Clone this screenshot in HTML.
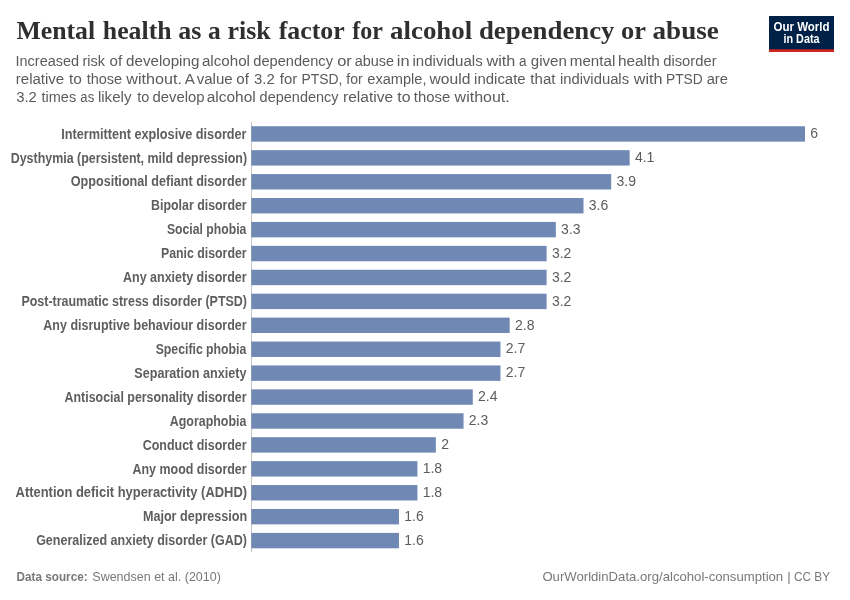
<!DOCTYPE html>
<html><head><meta charset="utf-8"><title>Mental health as a risk factor for alcohol dependency or abuse</title>
<style>
html,body{margin:0;padding:0;background:#fff;}
svg{display:block;will-change:transform;}
text{font-family:"Liberation Sans",sans-serif;}
.t{font-family:"Liberation Serif",serif;font-weight:bold;fill:#2f2f2f;}
.s{fill:#5b5b5b;}
.l{font-weight:bold;fill:#5e5e5e;font-size:14.1px;}
.v{fill:#5c5c5c;font-size:14px;}
.f{fill:#787878;font-size:13.3px;}
</style></head><body>
<svg width="850" height="600" viewBox="0 0 850 600">
<rect width="850" height="600" fill="#fff"/>
<text class="t" x="16.42" y="39.1" textLength="78.77" lengthAdjust="spacingAndGlyphs" font-size="25.2">Mental</text>
<text class="t" x="102.86" y="39.1" textLength="68.68" lengthAdjust="spacingAndGlyphs" font-size="25.2">health</text>
<text class="t" x="178.2" y="39.1" textLength="23.08" lengthAdjust="spacingAndGlyphs" font-size="25.2">as</text>
<text class="t" x="207.92" y="39.1" textLength="12.74" lengthAdjust="spacingAndGlyphs" font-size="25.2">a</text>
<text class="t" x="227.56" y="39.1" textLength="43.05" lengthAdjust="spacingAndGlyphs" font-size="25.2">risk</text>
<text class="t" x="278.67" y="39.1" textLength="66.05" lengthAdjust="spacingAndGlyphs" font-size="25.2">factor</text>
<text class="t" x="352.28" y="39.1" textLength="30.64" lengthAdjust="spacingAndGlyphs" font-size="25.2">for</text>
<text class="t" x="390.07" y="39.1" textLength="82.14" lengthAdjust="spacingAndGlyphs" font-size="25.2">alcohol</text>
<text class="t" x="478.94" y="39.1" textLength="135.57" lengthAdjust="spacingAndGlyphs" font-size="25.2">dependency</text>
<text class="t" x="620.95" y="39.1" textLength="24.91" lengthAdjust="spacingAndGlyphs" font-size="25.2">or</text>
<text class="t" x="652.56" y="39.1" textLength="66.31" lengthAdjust="spacingAndGlyphs" font-size="25.2">abuse</text>
<text class="s" x="15.49" y="66.3" textLength="63.63" lengthAdjust="spacingAndGlyphs" font-size="15.25">Increased</text>
<text class="s" x="82.45" y="66.3" textLength="22.54" lengthAdjust="spacingAndGlyphs" font-size="15.25">risk</text>
<text class="s" x="109.58" y="66.3" textLength="12.59" lengthAdjust="spacingAndGlyphs" font-size="15.25">of</text>
<text class="s" x="126.08" y="66.3" textLength="73.23" lengthAdjust="spacingAndGlyphs" font-size="15.25">developing</text>
<text class="s" x="201.88" y="66.3" textLength="48.09" lengthAdjust="spacingAndGlyphs" font-size="15.25">alcohol</text>
<text class="s" x="253.3" y="66.3" textLength="79.7" lengthAdjust="spacingAndGlyphs" font-size="15.25">dependency</text>
<text class="s" x="337.21" y="66.3" textLength="14.65" lengthAdjust="spacingAndGlyphs" font-size="15.25">or</text>
<text class="s" x="354.71" y="66.3" textLength="39.43" lengthAdjust="spacingAndGlyphs" font-size="15.25">abuse</text>
<text class="s" x="396.79" y="66.3" textLength="12.82" lengthAdjust="spacingAndGlyphs" font-size="15.25">in</text>
<text class="s" x="412.51" y="66.3" textLength="70.16" lengthAdjust="spacingAndGlyphs" font-size="15.25">individuals</text>
<text class="s" x="486.4" y="66.3" textLength="28.96" lengthAdjust="spacingAndGlyphs" font-size="15.25">with</text>
<text class="s" x="518.94" y="66.3" textLength="7.54" lengthAdjust="spacingAndGlyphs" font-size="15.25">a</text>
<text class="s" x="530.78" y="66.3" textLength="36.07" lengthAdjust="spacingAndGlyphs" font-size="15.25">given</text>
<text class="s" x="569.81" y="66.3" textLength="45.51" lengthAdjust="spacingAndGlyphs" font-size="15.25">mental</text>
<text class="s" x="617.99" y="66.3" textLength="41.87" lengthAdjust="spacingAndGlyphs" font-size="15.25">health</text>
<text class="s" x="663.19" y="66.3" textLength="53.52" lengthAdjust="spacingAndGlyphs" font-size="15.25">disorder</text>
<text class="s" x="15.81" y="84.2" textLength="48.44" lengthAdjust="spacingAndGlyphs" font-size="15.25">relative</text>
<text class="s" x="69.05" y="84.2" textLength="12.85" lengthAdjust="spacingAndGlyphs" font-size="15.25">to</text>
<text class="s" x="86.66" y="84.2" textLength="35.49" lengthAdjust="spacingAndGlyphs" font-size="15.25">those</text>
<text class="s" x="126.3" y="84.2" textLength="55.82" lengthAdjust="spacingAndGlyphs" font-size="15.25">without.</text>
<text class="s" x="184.68" y="84.2" textLength="10.07" lengthAdjust="spacingAndGlyphs" font-size="15.25">A</text>
<text class="s" x="196.68" y="84.2" textLength="36.02" lengthAdjust="spacingAndGlyphs" font-size="15.25">value</text>
<text class="s" x="236.28" y="84.2" textLength="12.59" lengthAdjust="spacingAndGlyphs" font-size="15.25">of</text>
<text class="s" x="253.99" y="84.2" textLength="20.72" lengthAdjust="spacingAndGlyphs" font-size="15.25">3.2</text>
<text class="s" x="279.76" y="84.2" textLength="17.44" lengthAdjust="spacingAndGlyphs" font-size="15.25">for</text>
<text class="s" x="301.46" y="84.2" textLength="41.03" lengthAdjust="spacingAndGlyphs" font-size="15.25">PTSD,</text>
<text class="s" x="346.27" y="84.2" textLength="16.4" lengthAdjust="spacingAndGlyphs" font-size="15.25">for</text>
<text class="s" x="367.3" y="84.2" textLength="59.22" lengthAdjust="spacingAndGlyphs" font-size="15.25">example,</text>
<text class="s" x="429.6" y="84.2" textLength="40.79" lengthAdjust="spacingAndGlyphs" font-size="15.25">would</text>
<text class="s" x="474.12" y="84.2" textLength="51.56" lengthAdjust="spacingAndGlyphs" font-size="15.25">indicate</text>
<text class="s" x="530.35" y="84.2" textLength="25.13" lengthAdjust="spacingAndGlyphs" font-size="15.25">that</text>
<text class="s" x="559.93" y="84.2" textLength="69.14" lengthAdjust="spacingAndGlyphs" font-size="15.25">individuals</text>
<text class="s" x="633.8" y="84.2" textLength="28.76" lengthAdjust="spacingAndGlyphs" font-size="15.25">with</text>
<text class="s" x="665.97" y="84.2" textLength="36.85" lengthAdjust="spacingAndGlyphs" font-size="15.25">PTSD</text>
<text class="s" x="706.7" y="84.2" textLength="21.24" lengthAdjust="spacingAndGlyphs" font-size="15.25">are</text>
<text class="s" x="16.19" y="102.0" textLength="20.72" lengthAdjust="spacingAndGlyphs" font-size="15.25">3.2</text>
<text class="s" x="41.56" y="102.0" textLength="34.57" lengthAdjust="spacingAndGlyphs" font-size="15.25">times</text>
<text class="s" x="80.37" y="102.0" textLength="13.85" lengthAdjust="spacingAndGlyphs" font-size="15.25">as</text>
<text class="s" x="97.91" y="102.0" textLength="33.61" lengthAdjust="spacingAndGlyphs" font-size="15.25">likely</text>
<text class="s" x="137.26" y="102.0" textLength="12.1" lengthAdjust="spacingAndGlyphs" font-size="15.25">to</text>
<text class="s" x="152.49" y="102.0" textLength="52.06" lengthAdjust="spacingAndGlyphs" font-size="15.25">develop</text>
<text class="s" x="206.77" y="102.0" textLength="48.92" lengthAdjust="spacingAndGlyphs" font-size="15.25">alcohol</text>
<text class="s" x="259.61" y="102.0" textLength="78.99" lengthAdjust="spacingAndGlyphs" font-size="15.25">dependency</text>
<text class="s" x="343.08" y="102.0" textLength="49.99" lengthAdjust="spacingAndGlyphs" font-size="15.25">relative</text>
<text class="s" x="397.34" y="102.0" textLength="13.28" lengthAdjust="spacingAndGlyphs" font-size="15.25">to</text>
<text class="s" x="413.86" y="102.0" textLength="36.41" lengthAdjust="spacingAndGlyphs" font-size="15.25">those</text>
<text class="s" x="454.6" y="102.0" textLength="55.1" lengthAdjust="spacingAndGlyphs" font-size="15.25">without.</text>
<g>
<rect x="769" y="16" width="65" height="36" fill="#002147"/>
<rect x="769" y="49.3" width="65" height="2.7" fill="#ce261e"/>
<text x="801.5" y="30.7" font-size="12" font-weight="bold" fill="#fff" text-anchor="middle" textLength="56" lengthAdjust="spacingAndGlyphs">Our World</text>
<text x="801.5" y="43.3" font-size="12" font-weight="bold" fill="#fff" text-anchor="middle" textLength="36" lengthAdjust="spacingAndGlyphs">in Data</text>
</g>
<line x1="251.5" y1="122" x2="251.5" y2="552" stroke="#c4c4c4" stroke-width="1"/>
<rect x="251.3" y="126.25" width="553.68" height="15.4" fill="#6f88b4"/>
<text class="l" x="61.2" y="138.65" textLength="185.37" lengthAdjust="spacingAndGlyphs">Intermittent explosive disorder</text>
<text class="v" x="810.28" y="138.15">6</text>
<rect x="251.3" y="150.17" width="378.35" height="15.4" fill="#6f88b4"/>
<text class="l" x="10.72" y="162.57" textLength="236.31" lengthAdjust="spacingAndGlyphs">Dysthymia (persistent, mild depression)</text>
<text class="v" x="634.95" y="162.07">4.1</text>
<rect x="251.3" y="174.09" width="359.89" height="15.4" fill="#6f88b4"/>
<text class="l" x="70.74" y="186.49" textLength="175.88" lengthAdjust="spacingAndGlyphs">Oppositional defiant disorder</text>
<text class="v" x="616.49" y="185.99">3.9</text>
<rect x="251.3" y="198.01" width="332.21" height="15.4" fill="#6f88b4"/>
<text class="l" x="151.12" y="210.41" textLength="95.52" lengthAdjust="spacingAndGlyphs">Bipolar disorder</text>
<text class="v" x="588.81" y="209.91">3.6</text>
<rect x="251.3" y="221.93" width="304.52" height="15.4" fill="#6f88b4"/>
<text class="l" x="166.98" y="234.33" textLength="79.35" lengthAdjust="spacingAndGlyphs">Social phobia</text>
<text class="v" x="561.12" y="233.83">3.3</text>
<rect x="251.3" y="245.85" width="295.30" height="15.4" fill="#6f88b4"/>
<text class="l" x="160.93" y="258.25" textLength="85.65" lengthAdjust="spacingAndGlyphs">Panic disorder</text>
<text class="v" x="551.90" y="257.75">3.2</text>
<rect x="251.3" y="269.77" width="295.30" height="15.4" fill="#6f88b4"/>
<text class="l" x="122.97" y="282.17" textLength="123.63" lengthAdjust="spacingAndGlyphs">Any anxiety disorder</text>
<text class="v" x="551.90" y="281.67">3.2</text>
<rect x="251.3" y="293.69" width="295.30" height="15.4" fill="#6f88b4"/>
<text class="l" x="21.42" y="306.09" textLength="225.58" lengthAdjust="spacingAndGlyphs">Post-traumatic stress disorder (PTSD)</text>
<text class="v" x="551.90" y="305.59">3.2</text>
<rect x="251.3" y="317.61" width="258.38" height="15.4" fill="#6f88b4"/>
<text class="l" x="43.37" y="330.01" textLength="203.2" lengthAdjust="spacingAndGlyphs">Any disruptive behaviour disorder</text>
<text class="v" x="514.98" y="329.51">2.8</text>
<rect x="251.3" y="341.53" width="249.16" height="15.4" fill="#6f88b4"/>
<text class="l" x="155.67" y="353.93" textLength="90.68" lengthAdjust="spacingAndGlyphs">Specific phobia</text>
<text class="v" x="505.76" y="353.43">2.7</text>
<rect x="251.3" y="365.45" width="249.16" height="15.4" fill="#6f88b4"/>
<text class="l" x="134.26" y="377.85" textLength="112.25" lengthAdjust="spacingAndGlyphs">Separation anxiety</text>
<text class="v" x="505.76" y="377.35">2.7</text>
<rect x="251.3" y="389.37" width="221.47" height="15.4" fill="#6f88b4"/>
<text class="l" x="64.57" y="401.77" textLength="182.03" lengthAdjust="spacingAndGlyphs">Antisocial personality disorder</text>
<text class="v" x="478.07" y="401.27">2.4</text>
<rect x="251.3" y="413.29" width="212.24" height="15.4" fill="#6f88b4"/>
<text class="l" x="169.77" y="425.69" textLength="76.58" lengthAdjust="spacingAndGlyphs">Agoraphobia</text>
<text class="v" x="468.84" y="425.19">2.3</text>
<rect x="251.3" y="437.21" width="184.56" height="15.4" fill="#6f88b4"/>
<text class="l" x="142.65" y="449.61" textLength="103.97" lengthAdjust="spacingAndGlyphs">Conduct disorder</text>
<text class="v" x="441.16" y="449.11">2</text>
<rect x="251.3" y="461.13" width="166.10" height="15.4" fill="#6f88b4"/>
<text class="l" x="132.47" y="473.53" textLength="114.16" lengthAdjust="spacingAndGlyphs">Any mood disorder</text>
<text class="v" x="422.70" y="473.03">1.8</text>
<rect x="251.3" y="485.05" width="166.10" height="15.4" fill="#6f88b4"/>
<text class="l" x="15.56" y="497.45" textLength="231.53" lengthAdjust="spacingAndGlyphs">Attention deficit hyperactivity (ADHD)</text>
<text class="v" x="422.70" y="496.95">1.8</text>
<rect x="251.3" y="508.97" width="147.65" height="15.4" fill="#6f88b4"/>
<text class="l" x="142.91" y="521.37" textLength="104.27" lengthAdjust="spacingAndGlyphs">Major depression</text>
<text class="v" x="404.25" y="520.87">1.6</text>
<rect x="251.3" y="532.89" width="147.65" height="15.4" fill="#6f88b4"/>
<text class="l" x="36.14" y="545.29" textLength="210.84" lengthAdjust="spacingAndGlyphs">Generalized anxiety disorder (GAD)</text>
<text class="v" x="404.25" y="544.79">1.6</text>
<text class="f" x="16.6" y="581" font-weight="bold" textLength="71" lengthAdjust="spacingAndGlyphs">Data source:</text>
<text class="f" x="92.3" y="581" textLength="128.6" lengthAdjust="spacingAndGlyphs">Swendsen et al. (2010)</text>
<text class="f" x="542.4" y="581" textLength="240.8" lengthAdjust="spacingAndGlyphs">OurWorldinData.org/alcohol-consumption</text>
<text class="f" x="787.2" y="581">|</text>
<text class="f" x="794.0" y="581" textLength="36" lengthAdjust="spacingAndGlyphs">CC BY</text>
</svg>
</body></html>
